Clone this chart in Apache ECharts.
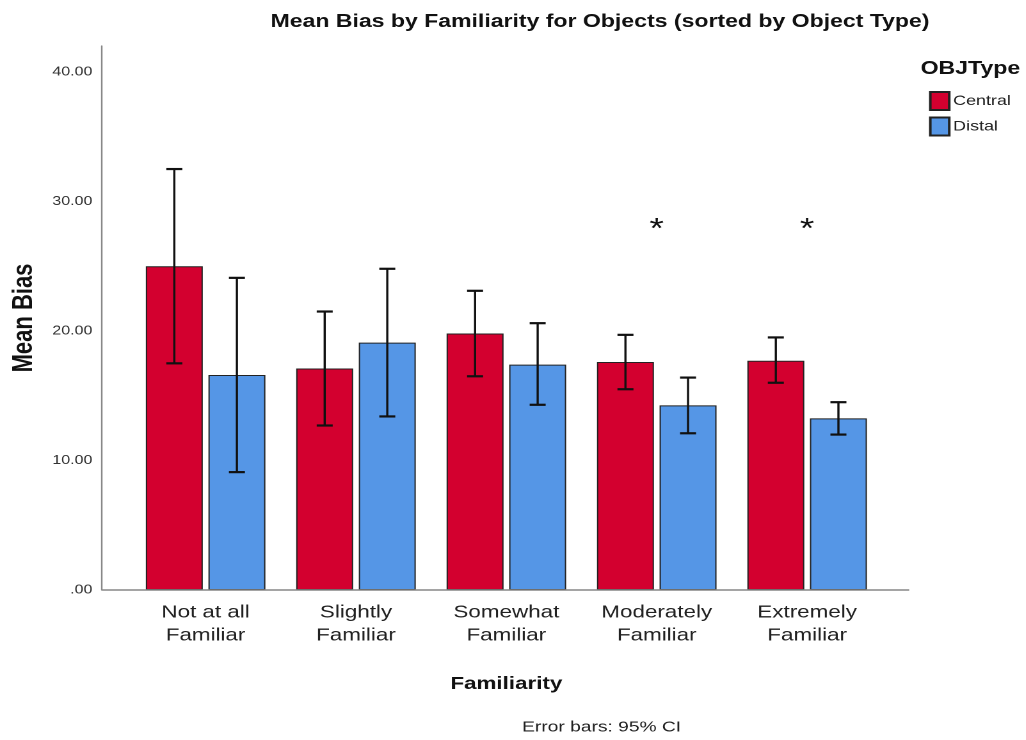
<!DOCTYPE html>
<html>
<head>
<meta charset="utf-8">
<title>Mean Bias by Familiarity for Objects</title>
<script src="https://cdn.jsdelivr.net/npm/echarts@6/dist/echarts.min.js"></script>
<style>
  html, body { margin: 0; padding: 0; background: #fff; overflow: hidden; }
  /* the chart is laid out on a narrower canvas and widened to the page width */
  #chart { width: 801.5px; height: 740px; transform: scaleX(1.28); transform-origin: 0 0; }
</style>
</head>
<body>
<div id="chart"></div>
<script>
// Familiarity levels on the x axis
const categories = ['Not at all\nFamiliar', 'Slightly\nFamiliar', 'Somewhat\nFamiliar', 'Moderately\nFamiliar', 'Extremely\nFamiliar'];

// Group means
const centralMean = [25.0, 17.1, 19.8, 17.6, 17.7];
const distalMean = [16.6, 19.1, 17.4, 14.25, 13.25];

// 95% confidence interval bounds
const centralLow = [17.5, 12.7, 16.5, 15.5, 16.0];
const centralHigh = [32.5, 21.5, 23.1, 19.7, 19.5];
const distalLow = [9.1, 13.4, 14.3, 12.1, 12.0];
const distalHigh = [24.1, 24.8, 20.6, 16.4, 14.5];

// Significant differences: category index and the height of the star
const sigCategories = [3, 4];
const sigHeight = 27.8;

// Y axis ticks
const yTicks = [0, 10, 20, 30, 40];

const seriesNames = ['Central', 'Distal'];
const colors = ['#D3002F', '#5596E6'];

const FONT = 'Liberation Sans, Arial, sans-serif';
const BAR_W = 44.5;
const BAR_GAP = 4.4;
const OFFSET = (BAR_W + BAR_GAP) / 2;
const AXIS_OFFSET = 22.2;

function errorBars(lows, highs, shift) {
  return {
    type: 'custom',
    silent: true,
    z: 10,
    data: lows.map((lo, i) => [i, lo, highs[i]]),
    renderItem: function (params, api) {
      const lo = api.coord([api.value(0), api.value(1)]);
      const hi = api.coord([api.value(0), api.value(2)]);
      const x = lo[0] + shift;
      const cap = 6.25;
      const stem = { stroke: '#111', lineWidth: 1.7 };
      const bar = { stroke: '#111', lineWidth: 2.2 };
      return {
        type: 'group',
        children: [
          { type: 'line', shape: { x1: x, y1: hi[1], x2: x, y2: lo[1] }, style: stem },
          { type: 'line', shape: { x1: x - cap, y1: hi[1], x2: x + cap, y2: hi[1] }, style: bar },
          { type: 'line', shape: { x1: x - cap, y1: lo[1], x2: x + cap, y2: lo[1] }, style: bar }
        ]
      };
    }
  };
}

const chart = echarts.init(document.getElementById('chart'), null, { renderer: 'canvas', devicePixelRatio: 2 });

const option = {
  backgroundColor: '#ffffff',
  animation: false,
  textStyle: { fontFamily: FONT },
  grid: { left: 99.5, width: 589.8, top: 46, bottom: 150, containLabel: false },
  legend: {
    orient: 'vertical',
    left: 725.8,
    top: 91,
    padding: 0,
    itemWidth: 14.8,
    itemHeight: 18,
    itemGap: 5.5,
    icon: 'rect',
    data: seriesNames,
    textStyle: { fontSize: 14, color: '#222', padding: [0, 0, 0, -2] }
  },
  xAxis: {
    type: 'category',
    data: categories,
    axisLine: { show: false },
    axisTick: { show: false },
    axisLabel: { fontSize: 17.5, color: '#222', lineHeight: 23, margin: 11, interval: 0 },
    name: 'Familiarity',
    nameLocation: 'middle',
    nameGap: 85,
    nameTextStyle: { fontSize: 17.5, fontWeight: 'bold', color: '#111' }
  },
  yAxis: {
    type: 'value',
    min: yTicks[0],
    max: 42,
    interval: 10,
    offset: AXIS_OFFSET,
    axisLine: { show: true, lineStyle: { color: '#888', width: 1.2 } },
    axisTick: { show: false },
    splitLine: { show: false },
    axisLabel: {
      fontSize: 12.5,
      color: '#333',
      margin: 7.5,
      showMaxLabel: false,
      formatter: v => (v === 0 ? '.00' : v.toFixed(2))
    },
    name: 'Mean Bias',
    nameLocation: 'middle',
    nameGap: 49,
    nameRotate: 90,
    nameTextStyle: { fontSize: 22, fontWeight: 'bold', color: '#111' }
  },
  series: [
    {
      name: seriesNames[0],
      type: 'bar',
      data: centralMean,
      barWidth: BAR_W,
      barGap: (BAR_GAP / BAR_W * 100) + '%',
      itemStyle: { color: colors[0], borderColor: '#222', borderWidth: 1 }
    },
    {
      name: seriesNames[1],
      type: 'bar',
      data: distalMean,
      barWidth: BAR_W,
      itemStyle: { color: colors[1], borderColor: '#222', borderWidth: 1 }
    },
    errorBars(centralLow, centralHigh, -OFFSET),
    errorBars(distalLow, distalHigh, OFFSET),
    {
      // asterisks over the significant pairs
      type: 'custom',
      silent: true,
      data: sigCategories.map(i => [i, sigHeight]),
      renderItem: function (params, api) {
        const p = api.coord([api.value(0), api.value(1)]);
        return {
          type: 'text',
          x: p[0],
          y: p[1],
          style: {
            text: '*',
            fontSize: 29,
            fontFamily: FONT,
            fill: '#111',
            align: 'center',
            verticalAlign: 'middle'
          }
        };
      }
    }
  ],
  graphic: [
    {
      type: 'text',
      x: 468.75,
      y: 13,
      style: {
        text: 'Mean Bias by Familiarity for Objects (sorted by Object Type)',
        fontSize: 18,
        fontWeight: 'bold',
        fill: '#111',
        fontFamily: FONT,
        align: 'center'
      }
    },
    {
      type: 'text',
      x: 719.3,
      y: 60,
      style: {
        text: 'OBJType',
        fontSize: 18,
        fontWeight: 'bold',
        fill: '#111',
        fontFamily: FONT
      }
    },
    {
      type: 'text',
      x: 470,
      y: 720,
      style: {
        text: 'Error bars: 95% CI',
        fontSize: 15,
        fill: '#222',
        fontFamily: FONT,
        align: 'center'
      }
    }
  ]
};

chart.setOption(option);

// Baseline runs from the y axis line out past the last category
const base = chart.convertToPixel({ gridIndex: 0 }, [0, 0]);
const gridRect = chart.getModel().getComponent('grid').coordinateSystem.getRect();
chart.setOption({
  graphic: option.graphic.concat([{
    type: 'line',
    z: 5,
    shape: { x1: gridRect.x - AXIS_OFFSET, y1: base[1], x2: gridRect.x + gridRect.width + 21, y2: base[1] },
    style: { stroke: '#888', lineWidth: 1.5 }
  }])
});
</script>
</body>
</html>
